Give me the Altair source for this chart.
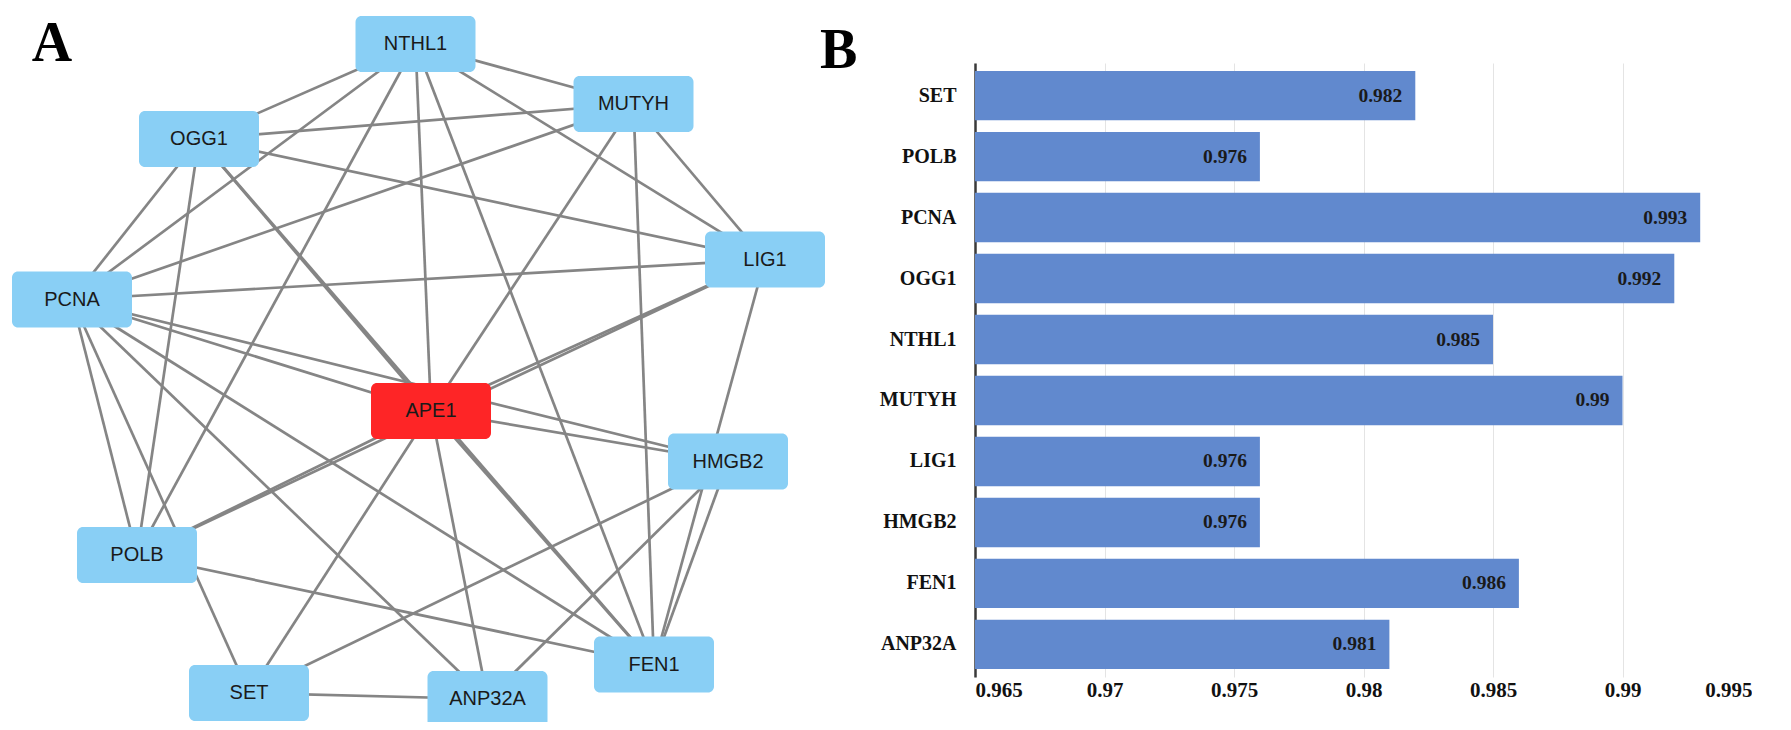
import altair as alt
import pandas as pd

# ---------------- Panel A: interaction network ----------------
node_names = ["NTHL1", "MUTYH", "OGG1", "LIG1", "PCNA", "APE1",
              "HMGB2", "POLB", "SET", "ANP32A", "FEN1"]
node_x = [415.5, 633.5, 199, 765, 72, 431, 728, 137, 249, 487.5, 654]
node_y = [44, 104, 139, 259.5, 299.5, 411, 461.5, 555, 693, 699, 664.5]
node_role = ["partner", "partner", "partner", "partner", "partner", "hub",
             "partner", "partner", "partner", "partner", "partner"]

edge_source = ["NTHL1", "NTHL1", "NTHL1", "NTHL1", "NTHL1", "NTHL1", "NTHL1",
               "OGG1", "OGG1", "OGG1", "OGG1", "OGG1", "OGG1",
               "MUTYH", "MUTYH", "MUTYH", "MUTYH",
               "LIG1", "LIG1", "LIG1", "LIG1",
               "PCNA", "PCNA", "PCNA", "PCNA", "PCNA", "PCNA",
               "APE1", "APE1", "APE1", "APE1", "APE1",
               "HMGB2", "HMGB2", "HMGB2", "POLB", "SET"]
edge_target = ["OGG1", "MUTYH", "PCNA", "POLB", "APE1", "FEN1", "LIG1",
               "MUTYH", "LIG1", "PCNA", "POLB", "APE1", "FEN1",
               "PCNA", "APE1", "FEN1", "LIG1",
               "PCNA", "APE1", "POLB", "FEN1",
               "APE1", "HMGB2", "POLB", "SET", "ANP32A", "FEN1",
               "HMGB2", "FEN1", "ANP32A", "SET", "POLB",
               "SET", "ANP32A", "FEN1", "FEN1", "ANP32A"]

# ---------------- Panel B: bar chart ----------------
genes = ["SET", "POLB", "PCNA", "OGG1", "NTHL1", "MUTYH", "LIG1", "HMGB2", "FEN1", "ANP32A"]
scores = [0.982, 0.976, 0.993, 0.992, 0.985, 0.99, 0.976, 0.976, 0.986, 0.981]
x_ticks = [0.965, 0.97, 0.975, 0.98, 0.985, 0.99, 0.995]
axis_min, axis_max = 0.965, 0.995

# ---------------- tables ----------------
nodes = pd.DataFrame({"name": node_names, "x": node_x, "y": node_y, "role": node_role})
pos = {n: (x, y) for n, x, y in zip(node_names, node_x, node_y)}
edges = pd.DataFrame({
    "source": edge_source, "target": edge_target,
    "x": [pos[s][0] for s in edge_source], "y": [pos[s][1] for s in edge_source],
    "x2": [pos[t][0] for t in edge_target], "y2": [pos[t][1] for t in edge_target],
})
bars = pd.DataFrame({"gene": genes, "score": scores})

NET_W, NET_H = 872, 714
xs = alt.Scale(domain=[8, 8 + NET_W], nice=False, zero=False)
ys = alt.Scale(domain=[8, 8 + NET_H], nice=False, zero=False, reverse=True)

edge_layer = alt.Chart(edges).mark_rule(color="#858585", strokeWidth=2.7).encode(
    x=alt.X("x:Q", scale=xs, axis=None),
    y=alt.Y("y:Q", scale=ys, axis=None),
    x2="x2:Q", y2="y2:Q",
)

node_layer = alt.Chart(nodes).transform_calculate(
    x1="datum.x - 60", x2="datum.x + 60", y1="datum.y - 28", y2="datum.y + 28"
).mark_rect(cornerRadius=6, clip=True).encode(
    x=alt.X("x1:Q", scale=xs, axis=None),
    x2="x2:Q",
    y=alt.Y("y1:Q", scale=ys, axis=None),
    y2="y2:Q",
    color=alt.Color("role:N", scale=alt.Scale(domain=["hub", "partner"],
                                              range=["#FE2526", "#89CFF5"]), legend=None),
)

label_layer = alt.Chart(nodes).mark_text(
    font="Liberation Sans", fontSize=20, color="#1a1a1a", baseline="middle", align="center"
).encode(
    x=alt.X("x:Q", scale=xs, axis=None),
    y=alt.Y("y:Q", scale=ys, axis=None),
    text="name:N",
)

panel_a = alt.Chart(pd.DataFrame({"panel": ["A"]})).mark_text(
    font="Liberation Serif", fontWeight="bold", fontSize=56, color="#000000",
    align="center", baseline="alphabetic"
).encode(x=alt.value(44), y=alt.value(53), text="panel:N")

network = alt.layer(edge_layer, node_layer, label_layer, panel_a).properties(
    width=NET_W, height=NET_H
)

BAR_W = 777
spacer = alt.Chart(pd.DataFrame({"panel": ["B"]})).mark_text(
    font="Liberation Serif", fontWeight="bold", fontSize=56, color="#000000",
    align="left", baseline="alphabetic"
).encode(x=alt.value(-155), y=alt.value(60), text="panel:N").properties(width=BAR_W, height=55)

xq = alt.Scale(domain=[axis_min, axis_max], nice=False, zero=False)
ybar = alt.Y("gene:N", sort=genes, title=None,
             scale=alt.Scale(paddingInner=0.19, paddingOuter=0.13),
             axis=alt.Axis(ticks=False, labelPadding=19, domainColor="#3a3a3a", domainWidth=2.5,
                           labelFont="Liberation Serif", labelFontWeight="bold",
                           labelFontSize=20, labelColor="#111111", grid=False))

bar_layer = alt.Chart(bars).mark_bar(color="#6189CE").encode(
    x=alt.X("score:Q", scale=xq, title=None,
            axis=alt.Axis(values=x_ticks, format=".3~f", ticks=False, domain=False,
                          grid=True, gridColor="#e4e4e4", gridWidth=1, labelPadding=2,
                          labelFont="Liberation Serif", labelFontWeight="bold",
                          labelFontSize=21, labelColor="#111111")),
    x2=alt.datum(axis_min),
    y=ybar,
)

value_layer = alt.Chart(bars).mark_text(
    font="Liberation Serif", fontWeight="bold", fontSize=19.5, color="#1a1a1a",
    align="right", baseline="middle", dx=-13
).encode(
    x=alt.X("score:Q", scale=xq),
    y=alt.Y("gene:N", sort=genes),
    text=alt.Text("score:Q", format=".3~f"),
)

bar_chart = alt.layer(bar_layer, value_layer).properties(width=BAR_W, height=614)

right = alt.vconcat(spacer, bar_chart, spacing=0, bounds="flush")

chart = alt.hconcat(network, right, spacing=95, bounds="flush").properties(
    padding={"left": 0, "top": 0, "right": 0, "bottom": 0}
).configure(background="white", view=alt.ViewConfig(stroke=None))

chart.save("out.html", embed_options={"renderer": "svg", "actions": False})
